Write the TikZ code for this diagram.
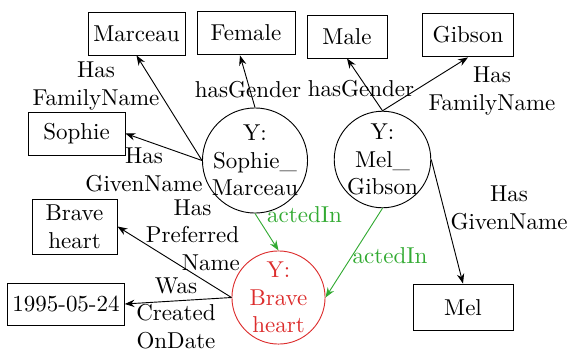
\documentclass[tikz,border=0pt]{standalone}
\usetikzlibrary{arrows.meta,positioning}

\definecolor{actgreen}{RGB}{50,170,50}
\definecolor{filmred}{RGB}{220,45,45}

\begin{document}
\begin{tikzpicture}[x=0.435pt, y=-0.435pt,
    box/.style={draw, rectangle, inner sep=2pt, align=center},
    entity/.style={draw, circle, inner sep=-1pt, align=center},
    rel/.style={-{Stealth[length=4.3pt, width=3.2pt]}},
    acted/.style={rel, actgreen},
    lbl/.style={align=center, inner sep=0pt}]
  \useasboundingbox (0,0) rectangle (573,353);
  %%%%%%%%%%%%%%%%literal values%%%%%%%%%%%%%%

  \node[box, minimum width=42.2pt, minimum height=18.7pt] (marceau) at (136.5,33.5) {Marceau};
  \node[box, minimum width=42.6pt, minimum height=19.1pt] (female) at (246,33) {Female};
  \node[box, minimum width=34.8pt, minimum height=18.7pt] (male) at (347,36.5) {Male};
  \node[box, minimum width=39.2pt, minimum height=19.1pt] (gibson) at (468,35) {Gibson};
  \node[box, minimum width=42.2pt, minimum height=18.7pt] (sophie) at (76.5,133.5) {Sophie};
  \node[box, minimum width=37pt, minimum height=23.9pt] (brave box) at (74.5,226.5) {Brave\\heart};
  \node[box, minimum width=50.5pt, minimum height=18.3pt] (created) at (66,304) {1995-05-24};
  \node[box, minimum width=43.5pt, minimum height=20.4pt] (mel) at (463,307.5) {Mel};

  %%%%%%%%%%%%%%%%entities%%%%%%%%%%%%%%

  \node[entity] (sophie marceau) at (255,160.5) {Y:\\Sophie\_\\Marceau};
  \node[entity, minimum size=42pt] (mel gibson) at (382.5,159.5) {Y:\\Mel\_\\Gibson};
  \node[entity, draw=filmred, text=filmred, minimum size=40.5pt] (braveheart) at (278.5,297.5) {Y:\\Brave\\heart};

  %%%%%%%%%%%%%%%%relations%%%%%%%%%%%%%%

  \draw[rel] (sophie marceau.west) -- (marceau.south);
  \draw[rel] (sophie marceau.west) -- (sophie.east);
  \draw[rel] (sophie marceau.north) -- (female.-105);
  \draw[rel] (mel gibson.north) -- (male.south);
  \draw[rel] (mel gibson.north) -- (gibson.south);
  \draw[rel] (mel gibson.east) -- (mel.north);
  \draw[acted] (sophie marceau.south) -- (braveheart.north);
  \draw[acted] (mel gibson.south) -- (braveheart.east);
  \draw[rel] (braveheart.west) -- (brave box.east);
  \draw[rel] (braveheart.west) -- (created.east);

  \node[lbl] (family left) at (96,86) {Has\\FamilyName};
  \node[lbl] (gender left) at (248,90) {hasGender};
  \node[lbl] (gender right) at (361,89) {hasGender};
  \node[lbl] (family right) at (492,91) {Has\\FamilyName};
  \node[lbl] (given left) at (144,170) {Has\\GivenName};
  \node[lbl] (given right) at (509,208) {Has\\GivenName};
  \node[lbl] (preferred) at (192.5,235) {Has\\Preferred\\\hspace*{16pt}Name};
  \node[lbl] (created on) at (176,313) {Was\\Created\\OnDate};
  \node[lbl, text=actgreen] (acted left) at (304.5,215) {actedIn};
  \node[lbl, text=actgreen] (acted right) at (390,256) {actedIn};

\end{tikzpicture}
\end{document}
